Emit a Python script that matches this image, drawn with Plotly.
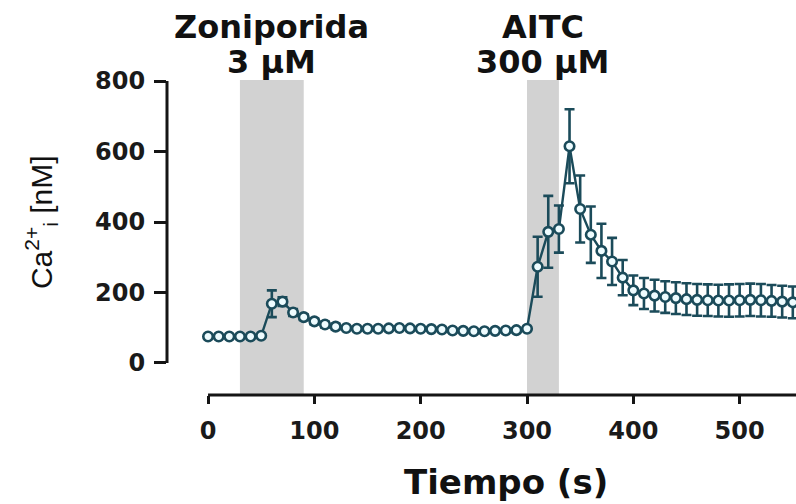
import plotly.graph_objects as go

# ---- data ----
time_s = [0, 10, 20, 30, 40, 50, 60, 70, 80, 90, 100, 110, 120, 130, 140, 150, 160, 170, 180,
          190, 200, 210, 220, 230, 240, 250, 260, 270, 280, 290, 300, 310, 320, 330, 340, 350,
          360, 370, 380, 390, 400, 410, 420, 430, 440, 450, 460, 470, 480, 490, 500, 510, 520,
          530, 540, 550, 560]
ca_nM = [75, 75, 75, 75, 75, 77,
         168, 174, 143, 130, 118, 109, 103,
         99, 97, 97, 97, 98, 99, 98, 97, 96, 95, 92, 91, 90, 90, 91, 92, 93, 97,
         273, 372, 380, 615, 437, 364, 318, 288, 242, 206,
         197, 191, 187, 184, 181, 179, 178, 177, 177, 178, 179, 178, 176, 174, 172, 171]
sem_nM = [4, 4, 4, 4, 4, 4,
          38, 12, 10, 8, 8, 8, 8,
          5, 5, 5, 5, 5, 5, 5, 5, 5, 5, 5, 5, 5, 5, 5, 5, 5, 5,
          85, 102, 67, 105, 95, 80, 77, 67, 50, 42,
          44, 45, 45, 45, 45, 45, 45, 45, 46, 46, 46, 46, 45, 45, 45, 45]

band_start = [30, 300]
band_end = [90, 330]
band_label_1 = ["Zoniporida", "AITC"]
band_label_2 = ["3 μM", "300 μM"]

x_ticks = [0, 100, 200, 300, 400, 500]
y_ticks = [0, 200, 400, 600, 800]
x_range = [-38.6, 553]
y_range = [-91, 803]

teal = "#1b4b5a"
axis_col = "#151515"
bold_font = dict(family="DejaVu Sans", size=24, color="#1a1a1a", weight="bold")

fig = go.Figure()
fig.add_trace(go.Scatter(
    x=time_s, y=ca_nM,
    mode="lines+markers",
    line=dict(color=teal, width=2.4),
    marker=dict(symbol="circle", size=9.5, color="#eefcff",
                line=dict(color=teal, width=2.6)),
    error_y=dict(type="data", array=sem_nM, visible=True,
                 color=teal, thickness=2.6, width=5),
    showlegend=False,
))

shapes = []
for s, e in zip(band_start, band_end):
    shapes.append(dict(type="rect", xref="x", yref="paper", x0=s, x1=e, y0=0, y1=1,
                       fillcolor="#d2d2d2", line=dict(width=0), layer="below"))
# offset axis lines (Prism style)
shapes.append(dict(type="line", xref="x", yref="paper", x0=x_ticks[0], x1=x_range[1],
                   y0=0, y1=0, line=dict(color=axis_col, width=3)))
shapes.append(dict(type="line", xref="paper", yref="y", x0=0, x1=0,
                   y0=y_ticks[0], y1=y_ticks[-1], line=dict(color=axis_col, width=3)))

annotations = []
for s, e, l1, l2 in zip(band_start, band_end, band_label_1, band_label_2):
    c = (s + e) / 2
    annotations.append(dict(x=c, xref="x", y=1, yref="paper", yshift=53,
                            text=l1, showarrow=False, xanchor="center", yanchor="middle",
                            font=dict(family="DejaVu Sans", size=32, color="#111", weight="bold")))
    annotations.append(dict(x=c, xref="x", y=1, yref="paper", yshift=18,
                            text=l2, showarrow=False, xanchor="center", yanchor="middle",
                            font=dict(family="DejaVu Sans", size=32, color="#111", weight="bold")))
annotations.append(dict(x=0.539, xref="paper", y=0, yref="paper", yshift=-87,
                        text="Tiempo (s)", showarrow=False, xanchor="center", yanchor="middle",
                        font=dict(family="DejaVu Sans", size=34, color="#111", weight="bold")))
annotations.append(dict(x=0, xref="paper", xshift=-126, y=0.549, yref="paper",
                        text="Ca<sup>2+</sup><sub>i</sub> [nM]", textangle=-90, showarrow=False,
                        xanchor="center", yanchor="middle",
                        font=dict(family="Liberation Sans", size=30, color="#111")))

fig.update_layout(
    width=796, height=504,
    margin=dict(l=167, r=0, t=80, b=109, pad=0),
    paper_bgcolor="white", plot_bgcolor="white",
    shapes=shapes, annotations=annotations,
    xaxis=dict(range=x_range, tickvals=x_ticks, ticktext=[str(v) for v in x_ticks],
               ticks="outside", ticklen=8, tickwidth=3, tickcolor=axis_col,
               showline=False, showgrid=False, zeroline=False, tickfont=bold_font,
               ticklabelstandoff=6),
    yaxis=dict(range=y_range, tickvals=y_ticks, ticktext=[str(v) for v in y_ticks],
               ticks="outside", ticklen=12, tickwidth=3, tickcolor=axis_col,
               showline=False, showgrid=False, zeroline=False, tickfont=bold_font,
               ticklabelstandoff=4),
)

fig.write_html("out.html")
